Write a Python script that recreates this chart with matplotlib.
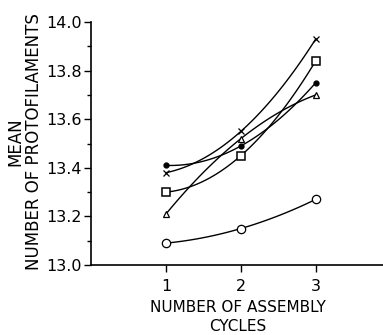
import numpy as np
import matplotlib
matplotlib.use('Agg')
import matplotlib.pyplot as plt

# assembly cycles
cycles = [1, 2, 3]

# mean number of protofilaments for each preparation
filled_circle = [13.41, 13.49, 13.75]
cross = [13.38, 13.55, 13.93]
square = [13.30, 13.45, 13.84]
triangle = [13.21, 13.52, 13.70]
open_circle = [13.09, 13.15, 13.27]

y_ticks = [13.0, 13.2, 13.4, 13.6, 13.8, 14.0]
y_minor = [13.1, 13.3, 13.5, 13.7, 13.9]
y_labels = ['13.0', '13.2', '13.4', '13.6', '13.8', '14.0']

series = [
    (filled_circle, dict(marker='o', markersize=3.5, markerfacecolor='black')),
    (cross, dict(marker='x', markersize=4.5, markeredgewidth=0.9)),
    (square, dict(marker='s', markersize=6, markerfacecolor='white', markeredgewidth=1.1)),
    (triangle, dict(marker='^', markersize=5, markerfacecolor='white', markeredgewidth=0.9)),
    (open_circle, dict(marker='o', markersize=6, markerfacecolor='white', markeredgewidth=0.9)),
]

fig = plt.figure(figsize=(3.83, 3.35), dpi=100)
ax = fig.add_axes([0.238, 0.209, 0.762, 0.725])

for vals, style in series:
    # smooth curve through the three points
    coef = np.polyfit(cycles, vals, 2)
    xs = np.linspace(cycles[0], cycles[-1], 100)
    ax.plot(xs, np.polyval(coef, xs), color='black', lw=1.0)
    ax.plot(cycles, vals, linestyle='none', color='black', **style)

ax.set_xlim(0, 3.9)
ax.set_ylim(13.0, 14.0)
ax.set_xticks(cycles)
ax.set_xticklabels(['1', '2', '3'])
ax.set_yticks(y_ticks)
ax.set_yticks(y_minor, minor=True)
ax.set_yticklabels(y_labels)

for s in ['top', 'right']:
    ax.spines[s].set_visible(False)
ax.spines['left'].set_linewidth(1.2)
ax.spines['bottom'].set_linewidth(1.2)

ax.tick_params(axis='both', direction='out', length=5, width=1.0, labelsize=11.5, pad=2)
ax.tick_params(axis='x', pad=5)
ax.tick_params(axis='y', which='minor', direction='out', length=3, width=1.0)

fig.text(238 / 383, 1 - 317 / 335, 'NUMBER OF ASSEMBLY\nCYCLES', fontsize=11,
         ha='center', va='center', multialignment='center', linespacing=1.3)
fig.text(25 / 383, 1 - 142 / 335, 'MEAN\nNUMBER OF PROTOFILAMENTS', fontsize=12,
         rotation=90, ha='center', va='center', multialignment='center', linespacing=1.05)

plt.savefig('out.png', dpi=100)
